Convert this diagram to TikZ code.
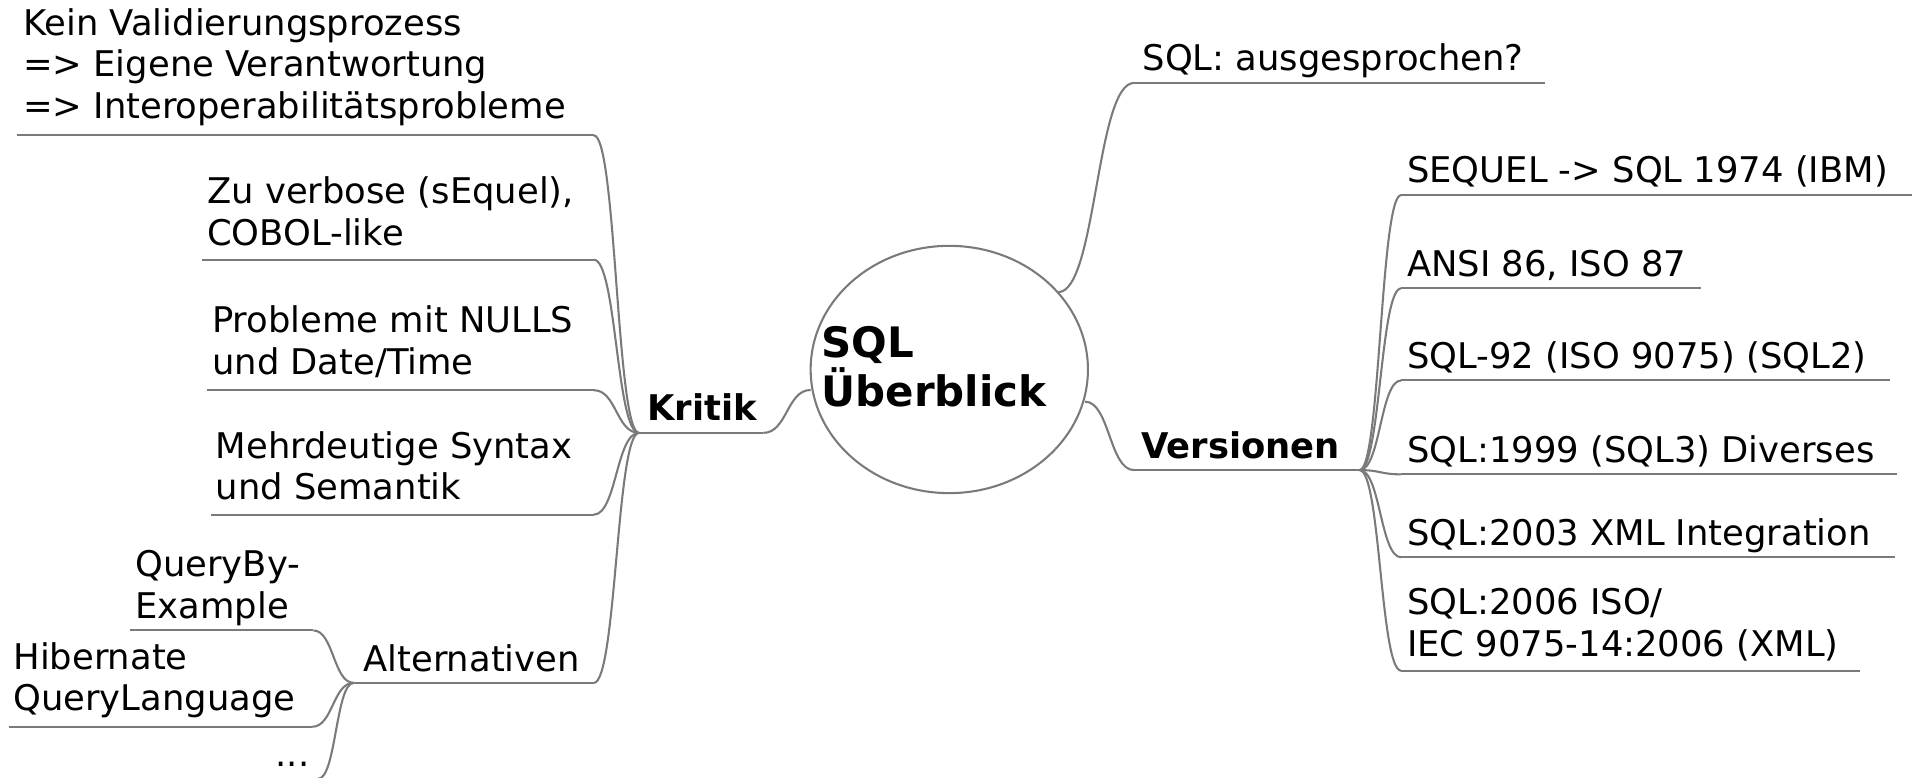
\documentclass[tikz,border=0pt]{standalone}
\usepackage{fontspec}
\setmainfont{DejaVu Sans}
\usetikzlibrary{calc,shapes.geometric}
\definecolor{linegray}{RGB}{122,122,122}
\newcommand\mmconn[2]{\draw[conn] let \p1=(#1), \p2=(#2) in (\p1) .. controls ({(\x1+\x2)/2},\y1) and ({(\x1+\x2)/2},\y2) .. (\p2);}
\begin{document}
\begin{tikzpicture}[x=1pt,y=-1pt,
  txt/.style={anchor=base west, inner sep=0pt, outer sep=0pt, align=left, font=\fontsize{29}{34}\selectfont},
  btxt/.style={txt, font=\fontsize{29}{34}\bfseries\selectfont},
  roottxt/.style={txt, font=\fontsize{34.4}{40.5}\bfseries\selectfont},
  uline/.style={draw=linegray, line width=1.7pt},
  conn/.style={draw=linegray, line width=1.7pt},
  rootshape/.style={ellipse, draw=linegray, line width=1.7pt, minimum width=227.4pt, minimum height=202.8pt, inner sep=0pt}
]
\useasboundingbox (0,0) rectangle (1568,638);

% central node (anchor base = last line)
\node[rootshape] (root) at (778.5,303) {};
\node[roottxt] (roottext) at (673.8,333.5) {SQL\\Überblick};
\coordinate (e-ausg) at (868,239.5);
\coordinate (e-ver) at (889.8,329.4);
\coordinate (e-kri) at (664.8,319.8);

% right side
\node[txt] (ausg) at (937,58) {SQL: ausgesprochen?};
\coordinate (ausg-l) at (930,68); \coordinate (ausg-r) at (1267,68);
\node[btxt] (ver) at (936,376) {Versionen};
\coordinate (ver-l) at (930,385.5); \coordinate (ver-r) at (1115,385.5);

\node[txt] (seq) at (1154,150) {SEQUEL -> SQL 1974 (IBM)};
\coordinate (seq-l) at (1149,160); \coordinate (seq-r) at (1568,160);
\node[txt] (ansi) at (1154,226.5) {ANSI 86, ISO 87};
\coordinate (ansi-l) at (1149,236.5); \coordinate (ansi-r) at (1395,236.5);
\node[txt] (s92) at (1154,302) {SQL-92 (ISO 9075) (SQL2)};
\coordinate (s92-l) at (1149,312); \coordinate (s92-r) at (1550,312);
\node[txt] (s99) at (1154,379) {SQL:1999 (SQL3) Diverses};
\coordinate (s99-l) at (1149,389); \coordinate (s99-r) at (1556,389);
\node[txt] (s03) at (1154,447) {SQL:2003 XML Integration};
\coordinate (s03-l) at (1149,457); \coordinate (s03-r) at (1554,457);
\node[txt] (s06) at (1154,538) {SQL:2006 ISO/\\IEC 9075-14:2006 (XML)};
\coordinate (s06-l) at (1149,550); \coordinate (s06-r) at (1525,550);

% left side
\node[btxt] (kri) at (531,344.5) {Kritik};
\coordinate (kri-l) at (524,355); \coordinate (kri-r) at (626,355);

\node[txt] (kein) at (19,97) {Kein Validierungsprozess\\=> Eigene Verantwortung\\=> Interoperabilitätsprobleme};
\coordinate (kein-l) at (14,111); \coordinate (kein-r) at (487,111);
\node[txt] (verb) at (170,201) {Zu verbose (sEquel),\\COBOL-like};
\coordinate (verb-l) at (166,213); \coordinate (verb-r) at (487,213);
\node[txt] (prob) at (174,307) {Probleme mit NULLS\\und Date/Time};
\coordinate (prob-l) at (170,320); \coordinate (prob-r) at (487,320);
\node[txt] (mehr) at (177,410) {Mehrdeutige Syntax\\und Semantik};
\coordinate (mehr-l) at (173,422); \coordinate (mehr-r) at (487,422);
\node[txt] (alt) at (298,551) {Alternativen};
\coordinate (alt-l) at (290,560); \coordinate (alt-r) at (487,560);

\node[txt] (qbe) at (111,507) {QueryBy-\\Example};
\coordinate (qbe-l) at (107,517); \coordinate (qbe-r) at (257,517);
\node[txt] (hib) at (11,583) {Hibernate\\QueryLanguage};
\coordinate (hib-l) at (7,596); \coordinate (hib-r) at (256,596);
\node[txt] (dots) at (226,628.7) {...};
\coordinate (dots-l) at (215,638.6); \coordinate (dots-r) at (261,638.6);

% underlines
\foreach \n in {ausg,ver,seq,ansi,s92,s99,s03,s06,kri,kein,verb,prob,mehr,alt,qbe,hib,dots}
  {\draw[uline] (\n-l) -- (\n-r);}

% connectors
\mmconn{e-ausg}{ausg-l}
\mmconn{e-ver}{ver-l}
\foreach \c in {seq,ansi,s92,s99,s03,s06} {\mmconn{ver-r}{\c-l}}
\mmconn{e-kri}{kri-r}
\foreach \c in {kein,verb,prob,mehr,alt} {\mmconn{kri-l}{\c-r}}
\foreach \c in {qbe,hib,dots} {\mmconn{alt-l}{\c-r}}
\end{tikzpicture}
\end{document}
